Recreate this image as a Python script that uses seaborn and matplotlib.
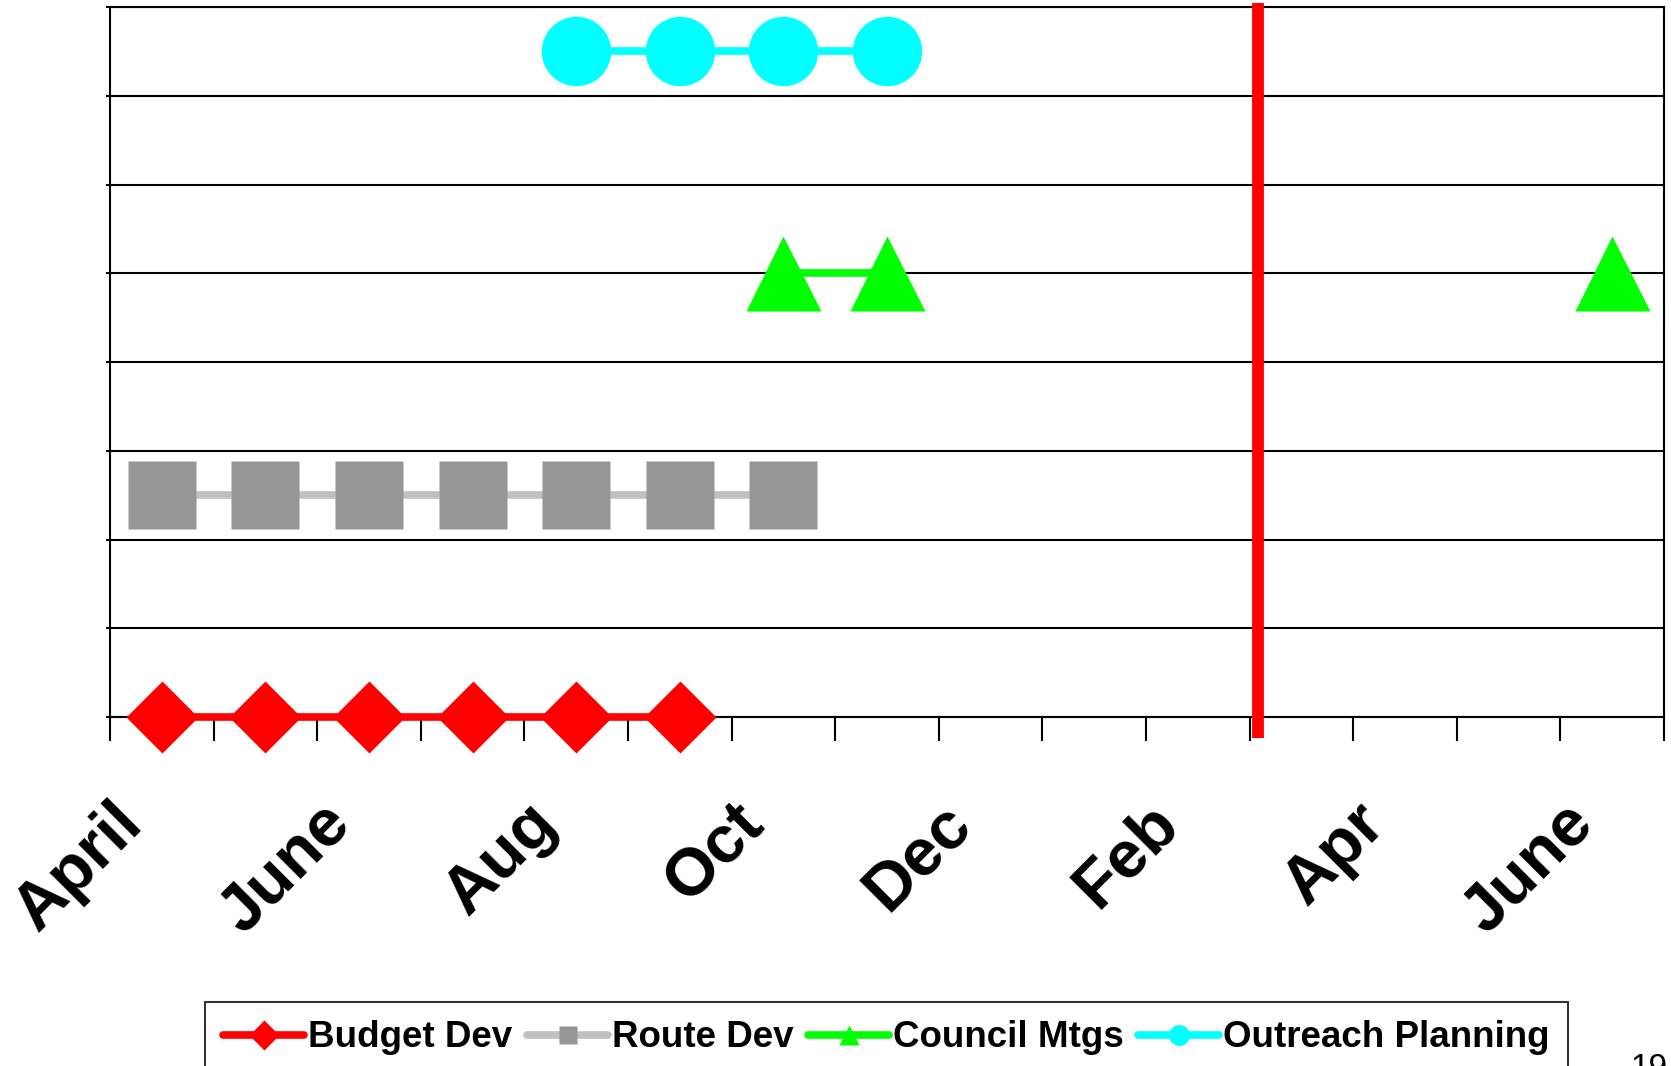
import matplotlib
matplotlib.use('Agg')
import matplotlib.pyplot as plt
import matplotlib.transforms as mtransforms
from matplotlib.lines import Line2D
import numpy as np
import seaborn as sns

months = ['April', 'May', 'June', 'July', 'Aug', 'Sept', 'Oct', 'Nov',
          'Dec', 'Jan', 'Feb', 'Mar', 'Apr', 'May', 'June']
nan = np.nan
budget_dev = [0, 0, 0, 0, 0, 0, nan, nan, nan, nan, nan, nan, nan, nan, nan]
route_dev = [2.5, 2.5, 2.5, 2.5, 2.5, 2.5, 2.5, nan, nan, nan, nan, nan, nan, nan, nan]
council_mtgs = [nan, nan, nan, nan, nan, nan, 5, 5, nan, nan, nan, nan, nan, nan, 5]
outreach = [nan, nan, nan, nan, 7.5, 7.5, 7.5, 7.5, nan, nan, nan, nan, nan, nan, nan]
series_names = ['Budget Dev', 'Route Dev', 'Council Mtgs', 'Outreach Planning']
today_pos = 10.58  # red "now" marker, just after Feb/Mar boundary

sns.set_theme(style='white')
plt.rcParams['font.family'] = ['Liberation Sans', 'DejaVu Sans']
plt.rcParams['text.color'] = 'black'
plt.rcParams['xtick.color'] = 'black'
plt.rcParams['ytick.color'] = 'black'

fig = plt.figure(figsize=(16.71, 10.66), dpi=100)
ax = fig.add_axes([0.0658, 0.3274, 0.93, 0.666])

x = np.arange(len(months))
styles = [
    dict(data=budget_dev, color='#ff0000', mfc='#ff0000', marker='D', ms=37),
    dict(data=route_dev, color='#c0c0c0', mfc='#969696', marker='s', ms=49),
    dict(data=council_mtgs, color='#00ff00', mfc='#00ff00', marker='^', ms=54),
    dict(data=outreach, color='#00ffff', mfc='#00ffff', marker='o', ms=50),
]
handles = []
for name, st in zip(series_names, styles):
    ax.plot(x, st['data'], color=st['color'], lw=5.5, marker=st['marker'],
            ms=st['ms'], mfc=st['mfc'], mec='none', clip_on=False, zorder=4)
    handles.append(Line2D([], [], color=st['color'], lw=5.5, marker=st['marker'],
                          ms=15 if st['marker'] != 's' else 13, mfc=st['mfc'],
                          mec='none', label=name))

ax.axvline(today_pos, ymin=-0.03, ymax=1.005, color='#ff0000', lw=8.5,
           solid_capstyle='butt', clip_on=False, zorder=5)

ax.set_xlim(-0.5, len(months) - 0.5)
ax.set_ylim(0, 8)
ax.set_yticks(np.arange(0, 9))
ax.set_yticklabels([])
ax.yaxis.grid(True, color='black', lw=1.5)
ax.tick_params(axis='y', left=True, length=3, width=1.5, color='black')

ax.set_xticks(x[::2])
ax.set_xticklabels(months[::2], rotation=45, ha='right', va='baseline',
                   rotation_mode='anchor', fontsize=48, fontweight='bold',
                   color='black')
ax.set_xticks(np.arange(-0.5, len(months)), minor=True)
ax.tick_params(axis='x', which='major', length=0, pad=0)
ax.tick_params(axis='x', which='minor', bottom=True, length=17, width=1.5,
               color='black')
offset = mtransforms.ScaledTranslation(-0.17, -1.09, fig.dpi_scale_trans)
for lab in ax.get_xticklabels():
    lab.set_transform(lab.get_transform() + offset)

for sp in ax.spines.values():
    sp.set_color('black')
    sp.set_linewidth(1.5)

leg = fig.legend(handles=handles, loc='upper left', ncol=4,
                 bbox_to_anchor=(0.1227, 0.06), frameon=True,
                 prop={'weight': 'bold', 'size': 26.5}, handlelength=2.2,
                 handletextpad=0.1, columnspacing=0.4, borderpad=0.5,
                 borderaxespad=0, fancybox=False)
leg.get_frame().set_edgecolor('black')
leg.get_frame().set_linewidth(1.5)

fig.text(0.9755, 0.012, '19', fontsize=24, va='top', ha='left')

fig.savefig('out.png', dpi=100)
